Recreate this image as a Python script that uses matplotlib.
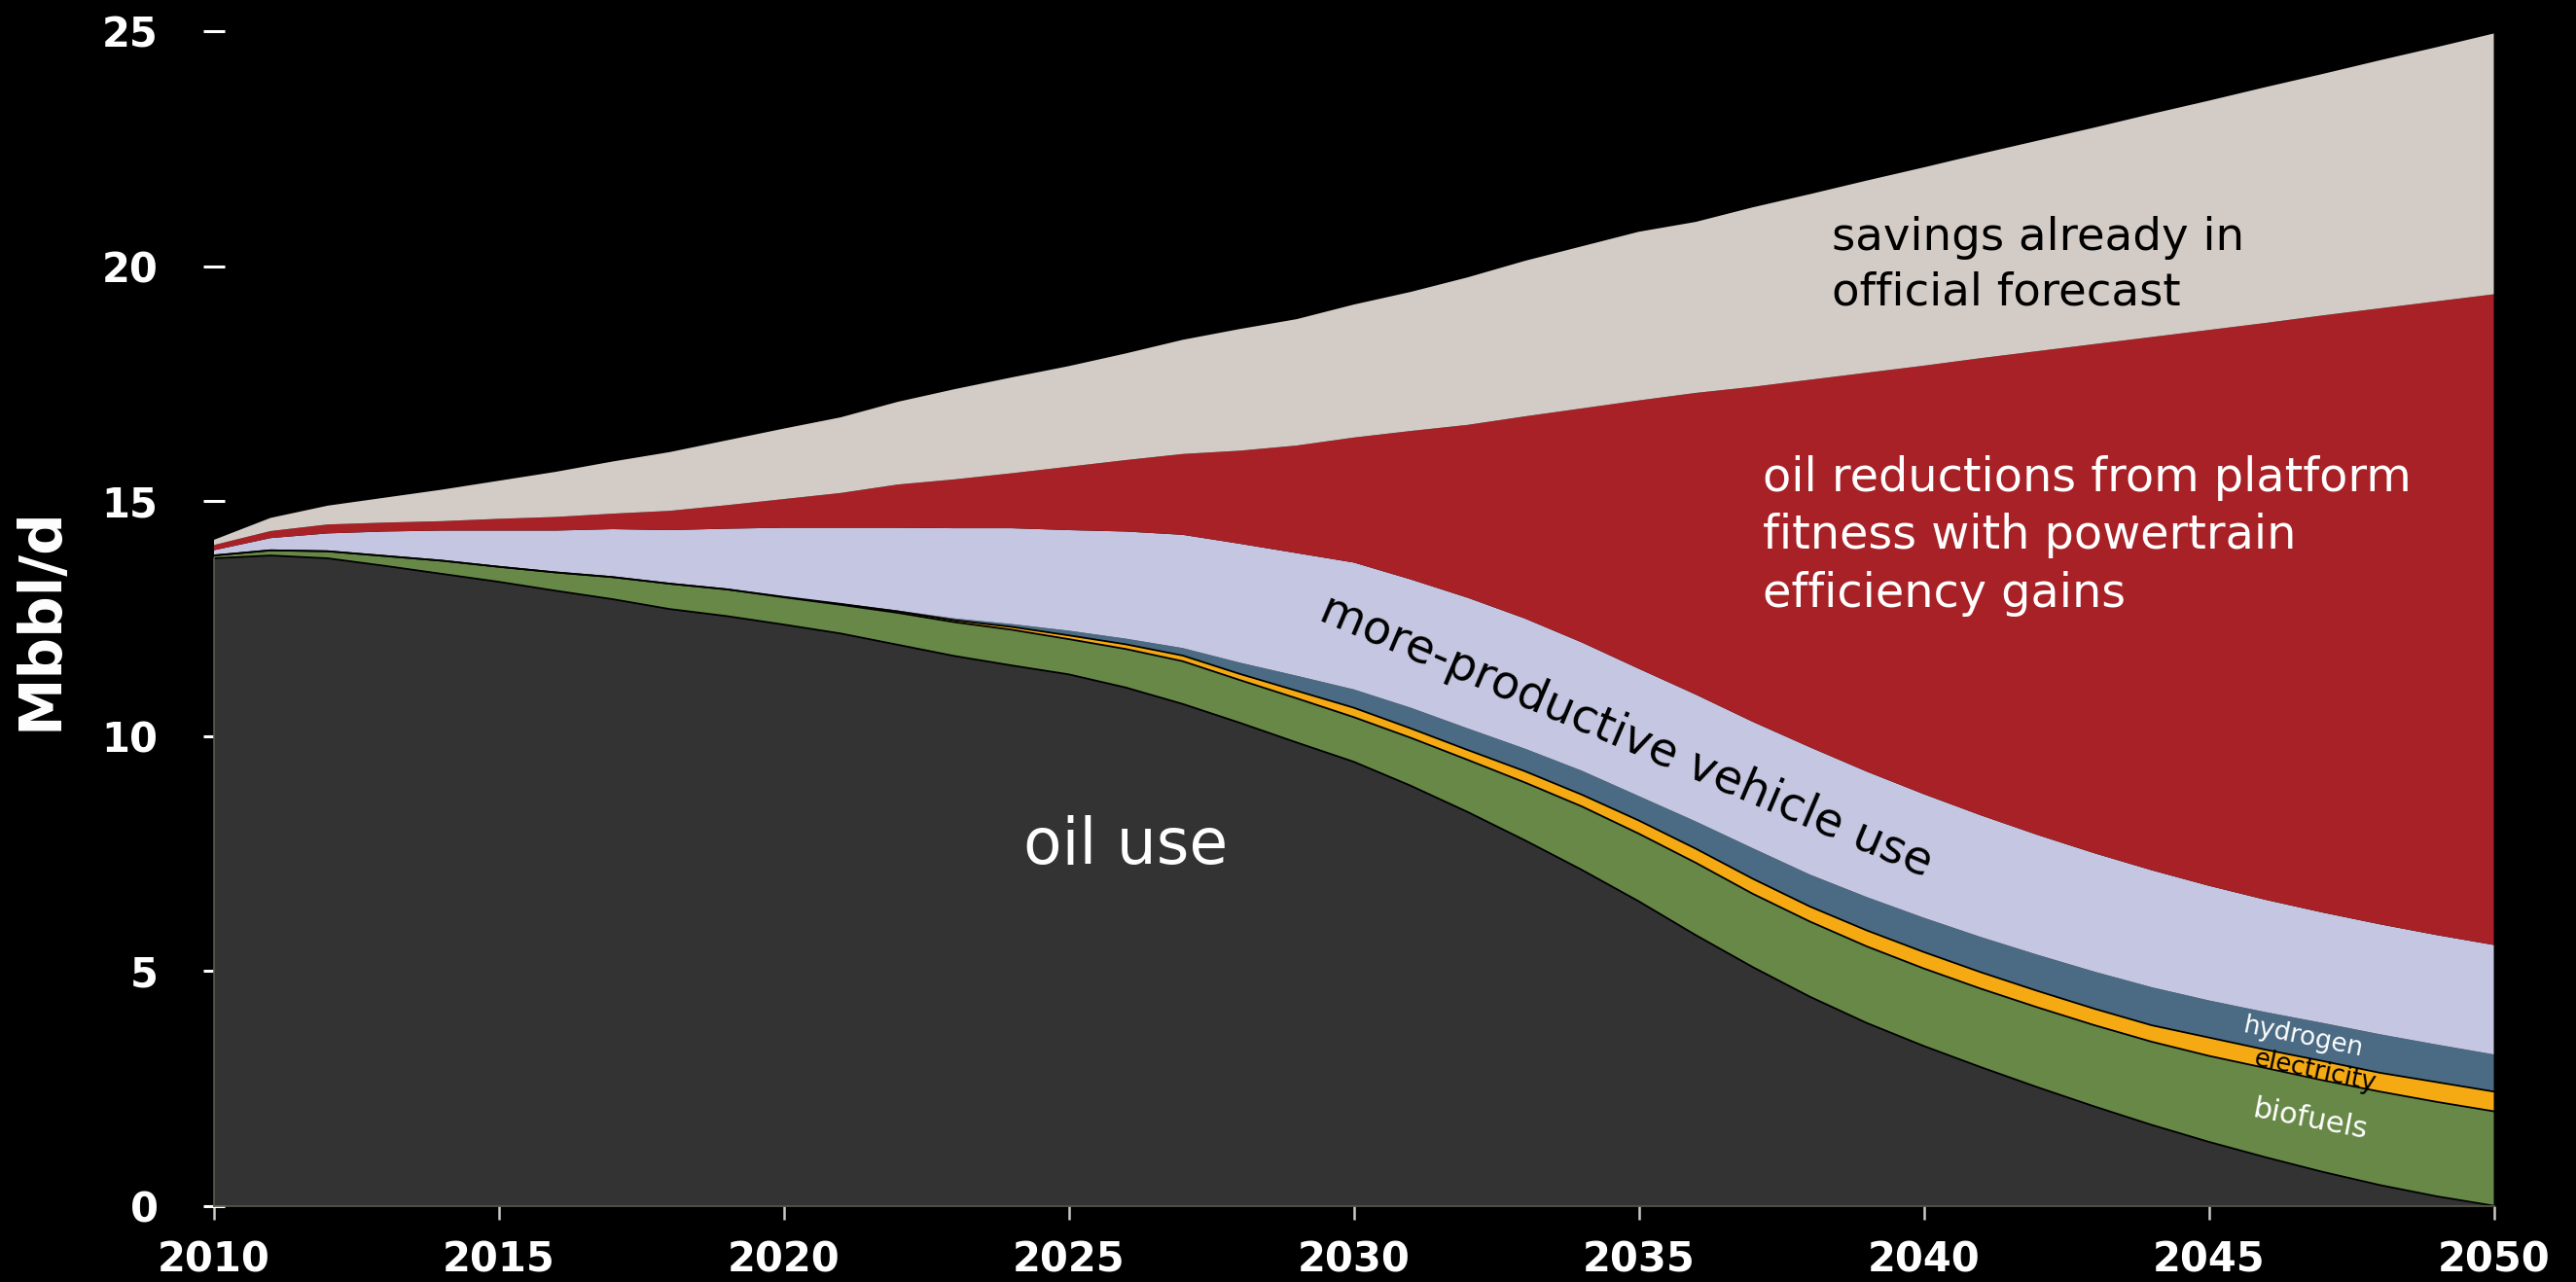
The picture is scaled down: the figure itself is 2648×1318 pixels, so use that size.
import matplotlib
matplotlib.use("Agg")
import matplotlib.pyplot as plt
import numpy as np

plt.rcParams['font.family'] = ['DejaVu Sans']

years = list(range(2010, 2051))

oil_use = [13.78, 13.84, 13.78, 13.62, 13.45, 13.28, 13.09, 12.91, 12.70, 12.55,
           12.37, 12.18, 11.94, 11.70, 11.50, 11.31, 11.03, 10.68, 10.28, 9.86,
           9.45, 8.94, 8.38, 7.78, 7.15, 6.48, 5.76, 5.08, 4.45, 3.89,
           3.40, 2.95, 2.52, 2.11, 1.72, 1.36, 1.03, 0.72, 0.44, 0.20, 0.00]

biofuels = [0.06, 0.11, 0.15, 0.21, 0.28, 0.32, 0.39, 0.47, 0.54, 0.57,
            0.58, 0.61, 0.68, 0.72, 0.76, 0.75, 0.82, 0.91, 0.91, 0.94,
            0.95, 1.02, 1.11, 1.23, 1.35, 1.44, 1.54, 1.56, 1.60, 1.63,
            1.65, 1.67, 1.70, 1.73, 1.77, 1.83, 1.90, 1.95, 1.99, 2.01, 2.01]

electricity = [0.00, 0.00, 0.00, 0.00, 0.00, 0.00, 0.00, 0.00, 0.00, 0.00,
               0.01, 0.02, 0.03, 0.04, 0.06, 0.08, 0.10, 0.12, 0.13, 0.16,
               0.20, 0.20, 0.21, 0.24, 0.25, 0.28, 0.30, 0.32, 0.32, 0.34,
               0.35, 0.35, 0.35, 0.35, 0.35, 0.39, 0.39, 0.41, 0.40, 0.42, 0.42]

hydrogen = [0.00, 0.00, 0.00, 0.00, 0.00, 0.00, 0.00, 0.00, 0.00, 0.00,
            0.00, 0.01, 0.02, 0.04, 0.06, 0.10, 0.12, 0.16, 0.24, 0.32,
            0.39, 0.44, 0.46, 0.48, 0.51, 0.52, 0.58, 0.65, 0.68, 0.71,
            0.73, 0.75, 0.77, 0.79, 0.81, 0.79, 0.80, 0.81, 0.82, 0.80, 0.79]

vehicle_use = [0.11, 0.26, 0.38, 0.52, 0.64, 0.77, 0.89, 1.02, 1.14, 1.29,
               1.47, 1.61, 1.76, 1.92, 2.04, 2.14, 2.28, 2.41, 2.53, 2.61,
               2.70, 2.73, 2.78, 2.77, 2.73, 2.71, 2.70, 2.69, 2.71, 2.67,
               2.63, 2.59, 2.55, 2.52, 2.49, 2.44, 2.39, 2.35, 2.34, 2.33, 2.33]

platform = [0.11, 0.15, 0.19, 0.19, 0.20, 0.25, 0.29, 0.33, 0.41, 0.50,
            0.61, 0.74, 0.92, 1.04, 1.17, 1.35, 1.52, 1.72, 1.98, 2.29,
            2.66, 3.16, 3.68, 4.30, 4.98, 5.71, 6.42, 7.13, 7.82, 8.49,
            9.12, 9.73, 10.30, 10.84, 11.35, 11.83, 12.28, 12.71, 13.11, 13.49, 13.85]

forecast_savings = [0.11, 0.28, 0.40, 0.53, 0.67, 0.81, 0.96, 1.11, 1.25, 1.38,
                    1.50, 1.61, 1.76, 1.92, 2.04, 2.14, 2.27, 2.43, 2.59, 2.69,
                    2.83, 2.96, 3.14, 3.31, 3.45, 3.59, 3.64, 3.82, 3.95, 4.09,
                    4.22, 4.35, 4.48, 4.61, 4.75, 4.88, 5.02, 5.14, 5.28, 5.41, 5.55]

layers = [oil_use, biofuels, electricity, hydrogen, vehicle_use, platform, forecast_savings]
colors = ['#333333', '#678847', '#F5AA14', '#4A6B83', '#C5C7E2', '#A82126', '#D3CBC5']

x_ticks = [2010, 2015, 2020, 2025, 2030, 2035, 2040, 2045, 2050]
y_ticks = [0, 5, 10, 15, 20, 25]

fig = plt.figure(figsize=(26.48, 13.18), dpi=100, facecolor='black')
ax = fig.add_axes([0.0829, 0.0595, 0.8852, 0.9162], facecolor='black')

ax.stackplot(years, *layers, colors=colors, linewidth=0, antialiased=True)

cum = np.cumsum(np.array(layers), axis=0)
for i in range(3):
    ax.plot(years, cum[i], color='black', linewidth=1.3, zorder=3)

ax.set_xlim(2010, 2050)
ax.set_ylim(0, 25)
ax.set_axisbelow(True)

for s in ['top', 'right']:
    ax.spines[s].set_visible(False)
ax.spines['bottom'].set_color('#5a5c48')
ax.spines['bottom'].set_linewidth(1.2)
ax.spines['bottom'].set_zorder(4)
ax.spines['left'].set_color('#5a5c48')
ax.spines['left'].set_linewidth(1.2)
ax.spines['left'].set_bounds(0, oil_use[0])
ax.spines['left'].set_zorder(4)

ax.set_xticks(x_ticks)
ax.set_xticklabels([str(v) for v in x_ticks])
ax.set_yticks(y_ticks)
ax.set_yticklabels([str(v) for v in y_ticks])
ax.tick_params(axis='y', direction='inout', length=16, width=2.2, color='white',
               pad=33, labelsize=30, labelcolor='white')
ax.tick_params(axis='x', direction='out', length=10, width=1.8, color='#c8c8c8',
               pad=15, labelsize=30, labelcolor='white')
for lab in ax.get_xticklabels() + ax.get_yticklabels():
    lab.set_fontweight('bold')

fig.text(42 / 2648, 0.5176, 'Mbbl/d', rotation=90, ha='center', va='center',
         fontsize=43, fontweight='bold', color='white')

ax.text(2026.0, 7.65, 'oil use', color='white', fontsize=46.5, ha='center', va='center')
ax.text(2038.39, 20.02, 'savings already in\nofficial forecast', color='black',
        fontsize=33.6, ha='left', va='center', linespacing=1.32)
ax.text(2037.18, 14.26, 'oil reductions from platform\nfitness with powertrain\nefficiency gains',
        color='white', fontsize=34.4, ha='left', va='center', linespacing=1.34)
ax.text(2034.78, 10.0, 'more-productive vehicle use', color='black', fontsize=34.3,
        ha='center', va='center', rotation=-23, rotation_mode='anchor')
ax.text(2046.65, 3.57, 'hydrogen', color='white', fontsize=19, ha='center', va='center',
        rotation=-11.5, rotation_mode='anchor')
ax.text(2046.87, 2.85, 'electricity', color='black', fontsize=18.5, ha='center', va='center',
        rotation=-12, rotation_mode='anchor')
ax.text(2046.77, 1.83, 'biofuels', color='white', fontsize=22, ha='center', va='center',
        rotation=-11, rotation_mode='anchor')

fig.savefig('out.png', dpi=100, facecolor='black')
